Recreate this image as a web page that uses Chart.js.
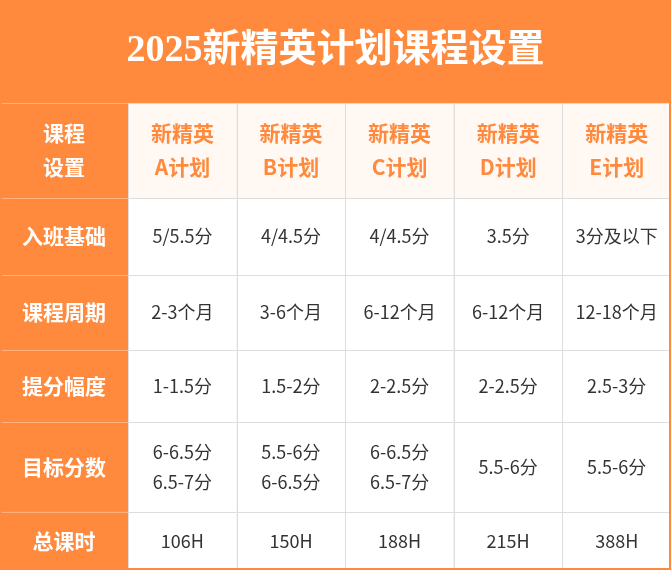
<!DOCTYPE html>
<html><head><meta charset="utf-8">
<script src="https://cdn.jsdelivr.net/npm/chart.js@4"></script>
<style>html,body{margin:0;padding:0;background:#fff}#w{width:671px;height:570px}</style>
</head><body><div id="w"><canvas id="c"></canvas></div>
<script>
const title = "2025新精英计划课程设置";
const corner = ["课程","设置"];
const plans = [["新精英","A计划"],["新精英","B计划"],["新精英","C计划"],["新精英","D计划"],["新精英","E计划"]];
const rowLabels = ["入班基础","课程周期","提分幅度","目标分数","总课时"];
const entryBase = ["5/5.5分","4/4.5分","4/4.5分","3.5分","3分及以下"];
const period = ["2-3个月","3-6个月","6-12个月","6-12个月","12-18个月"];
const gain = ["1-1.5分","1.5-2分","2-2.5分","2-2.5分","2.5-3分"];
const target = [["6-6.5分","6.5-7分"],["5.5-6分","6-6.5分"],["6-6.5分","6.5-7分"],["5.5-6分"],["5.5-6分"]];
const hours = ["106H","150H","188H","215H","388H"];
const body = [entryBase, period, gain, target, hours];
// grid edges in scale units
const colEdges = [0,1.18,2.18,3.18,4.18,5.18,6.18];
const rowEdges = [0,1.084,2.084,2.895,3.684,4.442,5.389,6.0];

const ORANGE="#FF8A3D";
const cells=[];
cells.push({x0:0,x1:6.18,y0:rowEdges[0],y1:rowEdges[1],bg:ORANGE,lines:[title],kind:"title"});
cells.push({x0:0,x1:colEdges[1],y0:rowEdges[1],y1:rowEdges[2],bg:ORANGE,lines:corner,kind:"side"});
plans.forEach((p,i)=>cells.push({x0:colEdges[i+1],x1:colEdges[i+2],y0:rowEdges[1],y1:rowEdges[2],bg:"#FFF8F3",lines:p,kind:"head"}));
rowLabels.forEach((r,j)=>{
  cells.push({x0:0,x1:colEdges[1],y0:rowEdges[j+2],y1:rowEdges[j+3],bg:ORANGE,lines:[r],kind:"side"});
  body[j].forEach((v,i)=>cells.push({x0:colEdges[i+1],x1:colEdges[i+2],y0:rowEdges[j+2],y1:rowEdges[j+3],bg:"#FFFFFF",lines:Array.isArray(v)?v:[v],kind:"body"}));
});

const tablePlugin={id:"table",beforeDatasetsDraw(chart){
  const {ctx,scales:{x,y}}=chart;
  ctx.save();
  cells.forEach(c=>{
    const px0=x.getPixelForValue(c.x0),px1=x.getPixelForValue(c.x1),py0=y.getPixelForValue(c.y0),py1=y.getPixelForValue(c.y1);
    ctx.fillStyle=c.bg;ctx.fillRect(px0,py0,px1-px0,py1-py0);
    if(c.kind!=="title"){
      ctx.strokeStyle=c.kind==="side"?"#FFB27F":"#DDDDDD";ctx.lineWidth=1;
      ctx.strokeRect(Math.round(px0)+0.5,Math.round(py0)+0.5,px1-px0,py1-py0);
    }
    let font,color,lh;
    if(c.kind==="title"){font="bold 38px 'Liberation Serif','Noto Sans CJK SC'";color="#fff";lh=40;}
    else if(c.kind==="side"){font="bold 21px 'Noto Sans CJK SC'";color="#fff";lh=34;}
    else if(c.kind==="head"){font="bold 21px 'Noto Sans CJK SC'";color=ORANGE;lh=34;}
    else {font="18px 'Noto Sans CJK SC'";color="#333";lh=30;}
    ctx.font=font;ctx.fillStyle=color;ctx.textAlign="center";ctx.textBaseline="middle";
    const cx=(px0+px1)/2,cy=(py0+py1)/2,n=c.lines.length;
    c.lines.forEach((t,k)=>ctx.fillText(t,cx,cy+(k-(n-1)/2)*lh));
  });
  ctx.strokeStyle=ORANGE;ctx.lineWidth=2;
  const bx0=x.getPixelForValue(0),bx1=x.getPixelForValue(6.18),by0=y.getPixelForValue(0),by1=y.getPixelForValue(6.0);
  ctx.strokeRect(bx0+1,by0+1,bx1-bx0-2,by1-by0-2);
  ctx.restore();
}};

new Chart(document.getElementById("c"),{
  type:"scatter",
  data:{datasets:[{data:cells.map(c=>({x:(c.x0+c.x1)/2,y:(c.y0+c.y1)/2})),pointRadius:0}]},
  options:{responsive:true,maintainAspectRatio:false,animation:false,
    layout:{padding:0},
    plugins:{legend:{display:false},tooltip:{enabled:false}},
    scales:{x:{type:"linear",min:0,max:6.18,display:false},y:{type:"linear",min:0,max:6.0,reverse:true,display:false}}},
  plugins:[tablePlugin]
});
</script></body></html>
